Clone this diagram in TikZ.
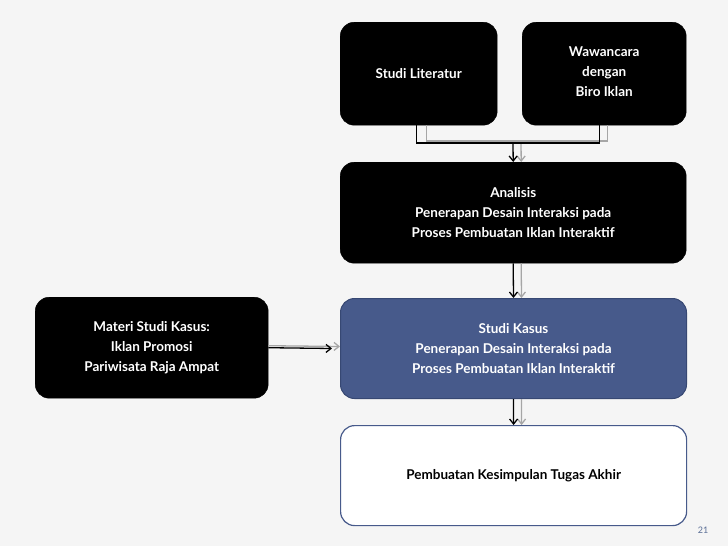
\documentclass[tikz,border=0pt]{standalone}
\usetikzlibrary{arrows.meta}
\usepackage{fontspec}
\setmainfont{Lato}
\begin{document}
\begin{tikzpicture}[x=1pt,y=-1pt,
 box/.style={rounded corners=14pt,font=\bfseries\fontsize{13.5}{20}\selectfont,align=center,anchor=north west,inner sep=0pt},
 blk/.style={box,fill=black,draw=black,text=white},
 bl/.style={line width=1.3pt,black},
 gr/.style={line width=1.3pt,gray!70},
 ar/.style={-{Straight Barb[length=5pt,width=8pt]}}]
\fill[gray!8] (0,0) rectangle (728,546);
\node[blk,minimum width=157pt,minimum height=103pt] (lit) at (340,22) {Studi Literatur};
\node[blk,minimum width=164pt,minimum height=103pt] (waw) at (522,22) {\\[-14pt]Wawancara\\dengan\\Biro Iklan};
\node[blk,minimum width=346pt,minimum height=101pt] (ana) at (340,162) {Analisis\\Penerapan Desain Interaksi pada\\Proses Pembuatan Iklan Interaktif};
\node[box,fill={rgb,255:red,71;green,90;blue,139},draw={rgb,255:red,55;green,72;blue,115},line width=1pt,text=white,minimum width=346pt,minimum height=100pt] (kas) at (340,298) {Studi Kasus\\Penerapan Desain Interaksi pada\\Proses Pembuatan Iklan Interaktif};
\node[box,fill=white,draw={rgb,255:red,71;green,90;blue,139},line width=1.2pt,text=black,minimum width=346pt,minimum height=100pt] (kes) at (340,425) {Pembuatan Kesimpulan Tugas Akhir};
\node[blk,minimum width=233pt,minimum height=101pt] (mat) at (35,297) {Materi Studi Kasus:\\Iklan Promosi\\Pariwisata Raja Ampat};
\node[font=\fontsize{9}{10}\selectfont,text={rgb,255:red,90;green,110;blue,150}] (pg) at (703,530) {21};
\coordinate (j) at (513,143);
\draw[gr] ([xshift=8pt]lit.south) |- ([xshift=8pt,yshift=2pt]j) -| ([xshift=3pt]waw.south);
\draw[gr,ar] ([xshift=8pt,yshift=2pt]j) -- ([xshift=8pt]ana.north);
\draw[bl] ([xshift=-2pt]lit.south) |- (j) -| ([xshift=-5pt]waw.south);
\draw[bl,ar] (j) -- (ana.north);
\draw[gr,ar] ([xshift=8pt]ana.south) -- ([xshift=8pt]kas.north);
\draw[bl,ar] (ana.south) -- (kas.north);
\draw[gr,ar] ([xshift=8pt]kas.south) -- ([xshift=8pt]kes.north);
\draw[bl,ar] (kas.south) -- (kes.north);
\draw[gr,ar] ([yshift=2pt]mat.east) -- ([yshift=2pt]kas.west);
\draw[bl,ar] (mat.east) -- ([xshift=-8pt]kas.west);
\end{tikzpicture}
\end{document}
